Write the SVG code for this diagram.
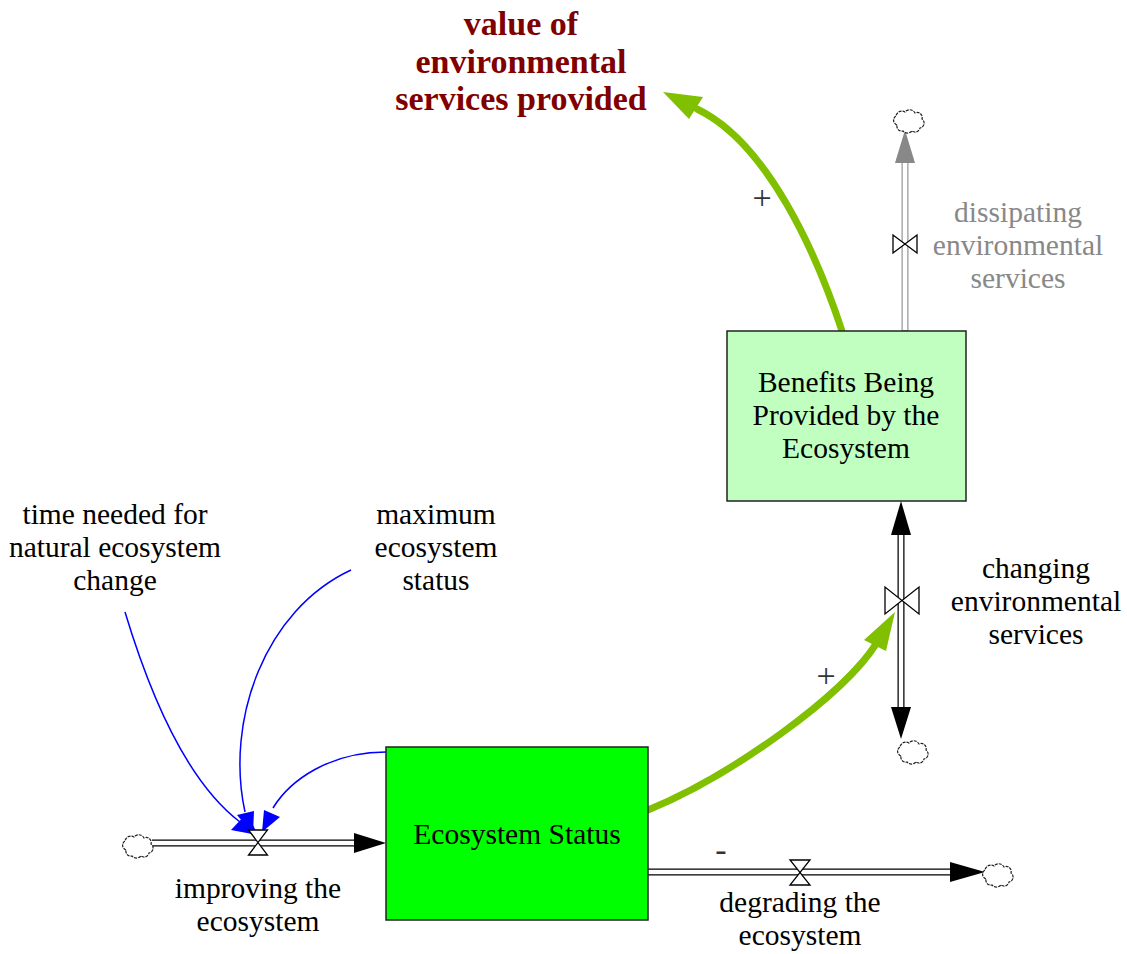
<svg xmlns="http://www.w3.org/2000/svg" width="1127" height="954" viewBox="0 0 1127 954">
<style>
text{font-family:"Liberation Serif","Times New Roman",serif;font-size:29.5px;fill:#000;text-anchor:middle}
.title{font-size:34px;font-weight:bold;fill:#800000}
.gray{fill:#888}
.sign{font-size:34px;fill:#333}
.pipeO{stroke:#000;stroke-width:7;fill:none}
.pipeI{stroke:#fff;stroke-width:4.5;fill:none}
.gpipeO{stroke:#999;stroke-width:7;fill:none}
.valve{fill:#fff;stroke:#000;stroke-width:1.3}
.cloud{fill:#fff;stroke:#222;stroke-width:1.2;stroke-dasharray:3 1}
.blue{fill:none;stroke:#0000ff;stroke-width:1.5}
.green{fill:none;stroke:#80c000;stroke-width:7;stroke-linecap:round}
</style>
<defs>
<path id="cloud" d="M-12,4 a5,5 0 0 1 -1,-9 a6,6 0 0 1 9,-4 a6,6 0 0 1 10,1 a5,5 0 0 1 7,6 a5,5 0 0 1 -2,9 a5,5 0 0 1 -8,3 a6,6 0 0 1 -9,0 a5,5 0 0 1 -6,-6 z"/>
</defs>
<rect width="1127" height="954" fill="#fff"/>

<g id="connectors">
  <!-- improving flow -->
  <line class="pipeO" x1="152" y1="843" x2="357" y2="843"/>
  <line class="pipeI" x1="150" y1="843" x2="358" y2="843"/>
  <polygon points="354,833 386,843 354,853" fill="#000"/>
  <!-- degrading flow -->
  <line class="pipeO" x1="648" y1="872" x2="952" y2="872"/>
  <line class="pipeI" x1="648" y1="872" x2="953" y2="872"/>
  <polygon points="950,862 985,872 950,882" fill="#000"/>
  <!-- changing flow -->
  <line class="pipeO" x1="901" y1="533" x2="901" y2="709"/>
  <line class="pipeI" x1="901" y1="532" x2="901" y2="710"/>
  <polygon points="891,535 901,501 911,535" fill="#000"/>
  <polygon points="891,707 901,739 911,707" fill="#000"/>
  <!-- dissipating flow -->
  <line class="gpipeO" x1="905" y1="331" x2="905" y2="161"/>
  <line class="pipeI" x1="905" y1="330" x2="905" y2="160"/>
  <polygon points="895,163 905,130 915,163" fill="#888"/>

  <!-- blue info links -->
  <path class="blue" d="M125,612 Q173,771 240,822"/>
  <polygon points="231,830 247,813 258,835" fill="#0000ff"/>
  <path class="blue" d="M351,570 C265,610 225,720 245,812"/>
  <polygon points="237,815 254,811 253,834" fill="#0000ff"/>
  <path class="blue" d="M386,752 C330,752 290,780 273,808"/>
  <polygon points="264,810 280,817 262,832" fill="#0000ff"/>

  <!-- green links -->
  <path class="green" d="M842,331 C817,255 768,143 697,109"/>
  <polygon points="703,97 663,92 689,119" fill="#80c000"/>
  <path class="green" d="M648,810 C731,776 843,696 876,644"/>
  <polygon points="864,640 895,612 886,651" fill="#80c000"/>
</g>

<g id="cloud-improving"><use href="#cloud" class="cloud" x="138" y="846"/></g>
<g id="cloud-degrading"><use href="#cloud" class="cloud" x="998" y="875"/></g>
<g id="cloud-changing"><use href="#cloud" class="cloud" x="913" y="752"/></g>
<g id="cloud-dissipating"><use href="#cloud" class="cloud" x="909" y="121"/></g>

<g id="valve-improving">
  <path class="valve" d="M248.5,830 L267.5,830 L248.5,855 L267.5,855 Z"/>
  <text x="258" y="898">improving the</text>
  <text x="258" y="931">ecosystem</text>
</g>
<g id="valve-degrading">
  <path class="valve" d="M790,860 L810,860 L790,885 L810,885 Z"/>
  <text x="800" y="912">degrading the</text>
  <text x="800" y="945">ecosystem</text>
</g>
<g id="valve-changing">
  <path class="valve" d="M885,587 L885,614 L919,587 L919,614 Z"/>
  <text x="1036" y="578">changing</text>
  <text x="1036" y="611">environmental</text>
  <text x="1036" y="644">services</text>
</g>
<g id="valve-dissipating">
  <path class="valve" d="M893,235 L893,253 L917,235 L917,253 Z"/>
  <text class="gray" x="1018" y="222">dissipating</text>
  <text class="gray" x="1018" y="255">environmental</text>
  <text class="gray" x="1018" y="288">services</text>
</g>

<g id="ecosystem-status">
  <rect x="386" y="747" width="262" height="173" fill="#00ff00" stroke="#222" stroke-width="1.5"/>
  <text x="517" y="844">Ecosystem Status</text>
</g>
<g id="benefits">
  <rect x="727" y="331" width="239" height="170" fill="#c0ffc0" stroke="#222" stroke-width="1.5"/>
  <text x="846" y="392">Benefits Being</text>
  <text x="846" y="425">Provided by the</text>
  <text x="846" y="458">Ecosystem</text>
</g>
<g id="time-needed">
  <text x="115" y="524">time needed for</text>
  <text x="115" y="557">natural ecosystem</text>
  <text x="115" y="590">change</text>
</g>
<g id="maximum-status">
  <text x="436" y="524">maximum</text>
  <text x="436" y="557">ecosystem</text>
  <text x="436" y="590">status</text>
</g>
<g id="value-services">
  <text class="title" x="521" y="35">value of</text>
  <text class="title" x="521" y="73">environmental</text>
  <text class="title" x="521" y="110">services provided</text>
</g>
<g id="polarity">
  <text class="sign" x="762" y="209">+</text>
  <text class="sign" x="826" y="687">+</text>
  <text class="sign" x="721" y="861">-</text>
</g>
</svg>
